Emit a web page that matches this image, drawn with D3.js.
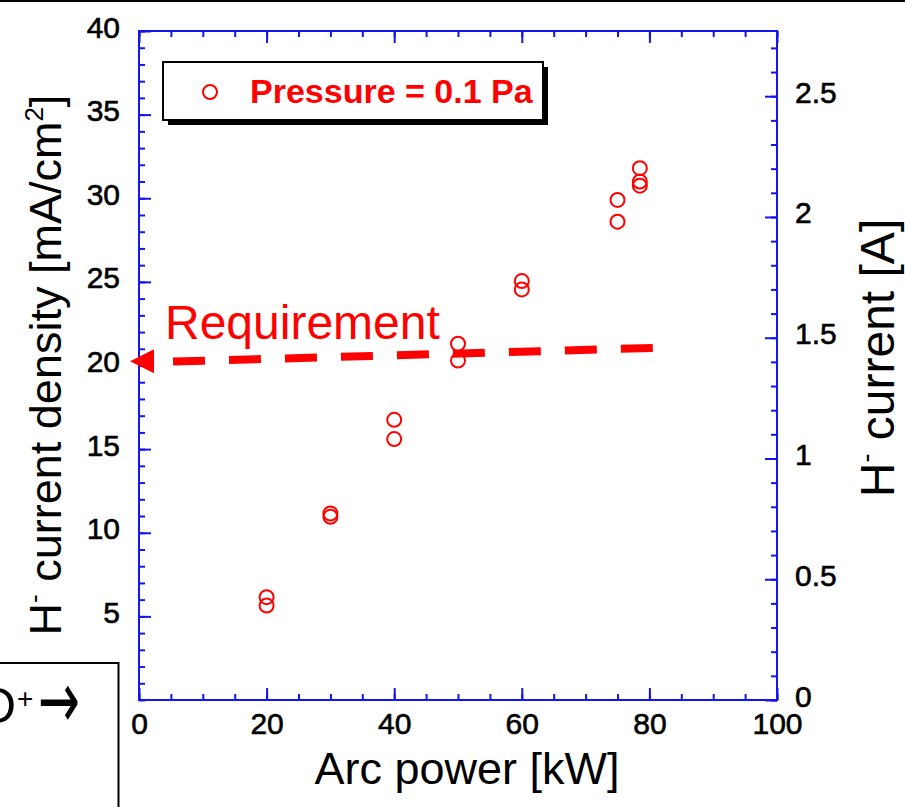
<!DOCTYPE html>
<html>
<head>
<meta charset="utf-8">
<script src="https://cdn.jsdelivr.net/npm/d3@7"></script>
<style>
  body { margin: 0; background: #fff; }
  svg { display: block; font-family: Arial, "Liberation Sans", sans-serif; }
</style>
</head>
<body>
<div id="chart"></div>
<script>

// Arc power scan, H- current density vs arc power

// points
const arcPower = [20, 20, 30, 30, 40, 40, 50, 50, 60, 60, 75, 75, 78.5, 78.5, 78.5];
const currentDensity = [6.15, 5.65, 11.15, 10.95, 16.75, 15.6, 21.3, 20.3, 25.05, 24.55, 29.9, 28.6, 31.8, 31.0, 30.75];

// tick labels
const xTickLabels = [0, 20, 40, 60, 80, 100];
const yTickLabels = [5, 10, 15, 20, 25, 30, 35, 40];
const y2TickLabels = [0, 0.5, 1, 1.5, 2, 2.5];

// requirement arrow, in (arc power, current density)
const reqArrowTip = [-1.4, 20.25];
const reqLineStart = [2.35, 20.2];
const reqLineEnd = [80.6, 21.05];

const legendLabel = "Pressure = 0.1 Pa";

// dimensions
const width = 905;
const height = 807;
const margin = {left: 139, right: 128, top: 31, bottom: 107};
const axisColor = "#1414f0";
const red = "#ff0000";

const svg = d3.select("#chart")
  .append("svg")
  .attr("width", width)
  .attr("height", height);

svg.append("rect")
  .attr("width", width)
  .attr("height", height)
  .attr("fill", "#fff");

// scales
const xScale = d3.scaleLinear()
  .domain([0, 100])
  .range([margin.left, width - margin.right]);

const yScale = d3.scaleLinear()
  .domain([0, 40])
  .range([height - margin.bottom, margin.top]);

// right axis is total current [A]
const yScale2 = d3.scaleLinear()
  .domain([0, 2.77])
  .range([height - margin.bottom, margin.top]);

// helper to style an axis group
function styleAxis(g, dy) {
  g.select(".domain").remove();
  g.selectAll(".tick line")
    .attr("stroke", axisColor)
    .attr("stroke-width", 2);
  g.selectAll(".tick text")
    .attr("fill", "#000")
    .attr("stroke", "#000")
    .attr("stroke-width", 0.6)
    .attr("font-size", 30)
    .attr("font-family", "Arial, 'Liberation Sans', sans-serif");
  if (dy) g.selectAll(".tick text").attr("dy", dy);
}

// minor ticks (all inward)
svg.append("g")
  .attr("transform", `translate(${margin.left},0)`)
  .call(d3.axisLeft(yScale).tickValues(d3.range(0, 41)).tickSize(-6).tickFormat(""))
  .call(g => styleAxis(g));

svg.append("g")
  .attr("transform", `translate(${width - margin.right},0)`)
  .call(d3.axisRight(yScale2).tickValues(d3.range(0, 28).map(i => i / 10)).tickSize(-6).tickFormat(""))
  .call(g => styleAxis(g));

svg.append("g")
  .attr("transform", `translate(0,${height - margin.bottom})`)
  .call(d3.axisBottom(xScale).tickValues(d3.range(0, 101, 5)).tickSize(-6).tickFormat(""))
  .call(g => styleAxis(g));

svg.append("g")
  .attr("transform", `translate(0,${margin.top})`)
  .call(d3.axisTop(xScale).tickValues(d3.range(0, 101, 5)).tickSize(-6).tickFormat(""))
  .call(g => styleAxis(g));

// major ticks with labels
svg.append("g")
  .attr("transform", `translate(${margin.left},0)`)
  .call(d3.axisLeft(yScale).tickValues(yTickLabels).tickSizeInner(-12).tickSizeOuter(0).tickPadding(19))
  .call(g => styleAxis(g, "0.2em"));

svg.append("g")
  .attr("transform", `translate(${width - margin.right},0)`)
  .call(d3.axisRight(yScale2).tickValues(y2TickLabels).tickSizeInner(-12).tickSizeOuter(0).tickPadding(18)
    .tickFormat(d => String(d)))
  .call(g => styleAxis(g, "0.2em"));

svg.append("g")
  .attr("transform", `translate(0,${height - margin.bottom})`)
  .call(d3.axisBottom(xScale).tickValues(xTickLabels).tickSizeInner(-12).tickSizeOuter(0).tickPadding(13))
  .call(g => styleAxis(g));

svg.append("g")
  .attr("transform", `translate(0,${margin.top})`)
  .call(d3.axisTop(xScale).tickValues(xTickLabels).tickSizeInner(-12).tickSizeOuter(0).tickFormat(""))
  .call(g => styleAxis(g));

// plot frame
svg.append("rect")
  .attr("x", margin.left)
  .attr("y", margin.top)
  .attr("width", width - margin.left - margin.right)
  .attr("height", height - margin.top - margin.bottom)
  .attr("fill", "none")
  .attr("stroke", axisColor)
  .attr("stroke-width", 2);

// axis titles
svg.append("text")
  .attr("x", 467)
  .attr("y", 784)
  .attr("text-anchor", "middle")
  .attr("font-size", 45)
  .text("Arc power [kW]");

const yTitle = svg.append("text")
  .attr("transform", "translate(61,365) rotate(-90)")
  .attr("text-anchor", "middle")
  .attr("font-size", 45);
yTitle.append("tspan").text("H");
yTitle.append("tspan").attr("font-size", 26).attr("dy", -18).text("-");
yTitle.append("tspan").attr("dy", 18).text(" current density [mA/cm");
yTitle.append("tspan").attr("font-size", 26).attr("dy", -18).text("2");
yTitle.append("tspan").attr("dy", 18).text("]");

const y2Title = svg.append("text")
  .attr("transform", "translate(894,358) rotate(-90)")
  .attr("text-anchor", "middle")
  .attr("font-size", 48);
y2Title.append("tspan").text("H");
y2Title.append("tspan").attr("font-size", 27).attr("dy", -19).text("-");
y2Title.append("tspan").attr("dy", 19).text(" current [A]");

// requirement annotation
svg.append("line")
  .attr("x1", xScale(reqLineStart[0]))
  .attr("y1", yScale(reqLineStart[1]))
  .attr("x2", xScale(reqLineEnd[0]))
  .attr("y2", yScale(reqLineEnd[1]))
  .attr("stroke", red)
  .attr("stroke-width", 8)
  .attr("stroke-dasharray", "32,24")
  .attr("stroke-dashoffset", 37);

const tipX = xScale(reqArrowTip[0]);
const tipY = yScale(reqArrowTip[1]);
const baseX = xScale(reqLineStart[0]);
svg.append("path")
  .attr("d", `M${tipX},${tipY} L${baseX},${tipY - 12} L${baseX},${tipY + 12} Z`)
  .attr("fill", red);

svg.append("text")
  .attr("x", 165)
  .attr("y", 339)
  .attr("font-size", 48)
  .attr("fill", red)
  .text("Requirement");

// data points
svg.selectAll(".pt")
  .data(d3.range(arcPower.length))
  .enter()
  .append("circle")
    .attr("class", "pt")
    .attr("cx", i => xScale(arcPower[i]))
    .attr("cy", i => yScale(currentDensity[i]))
    .attr("r", 7)
    .attr("fill", "none")
    .attr("stroke", red)
    .attr("stroke-width", 2);

// legend box with drop shadow
svg.append("rect")
  .attr("x", 168).attr("y", 67)
  .attr("width", 380).attr("height", 58)
  .attr("fill", "#000");
svg.append("rect")
  .attr("x", 163).attr("y", 62)
  .attr("width", 380).attr("height", 58)
  .attr("fill", "#fff")
  .attr("stroke", "#000")
  .attr("stroke-width", 2);
svg.append("circle")
  .attr("cx", 210).attr("cy", 92)
  .attr("r", 7)
  .attr("fill", "none")
  .attr("stroke", red)
  .attr("stroke-width", 2);
svg.append("text")
  .attr("x", 250).attr("y", 103)
  .attr("font-size", 34)
  .attr("font-weight", "bold")
  .attr("fill", red)
  .text(legendLabel);

// slide leftovers: top rule and the cut-off box at bottom left
svg.append("line")
  .attr("x1", 0).attr("x2", width)
  .attr("y1", 1).attr("y2", 1)
  .attr("stroke", "#000")
  .attr("stroke-width", 2);

svg.append("rect")
  .attr("x", -5).attr("y", 663)
  .attr("width", 123.5).attr("height", 160)
  .attr("fill", "none")
  .attr("stroke", "#000")
  .attr("stroke-width", 2);

svg.append("text")
  .attr("x", 16).attr("y", 723)
  .attr("text-anchor", "end")
  .attr("font-size", 50)
  .text("D");
svg.append("text")
  .attr("x", 17).attr("y", 708)
  .attr("font-size", 28)
  .text("+");
// taller arrow, stretched vertically like the slide's
svg.append("text")
  .attr("transform", "translate(38,706) scale(1,1.6)")
  .attr("dy", "0.27em")
  .attr("font-size", 50)
  .attr("font-family", "'DejaVu Sans', sans-serif")
  .text("\u2192");

</script>
</body>
</html>
